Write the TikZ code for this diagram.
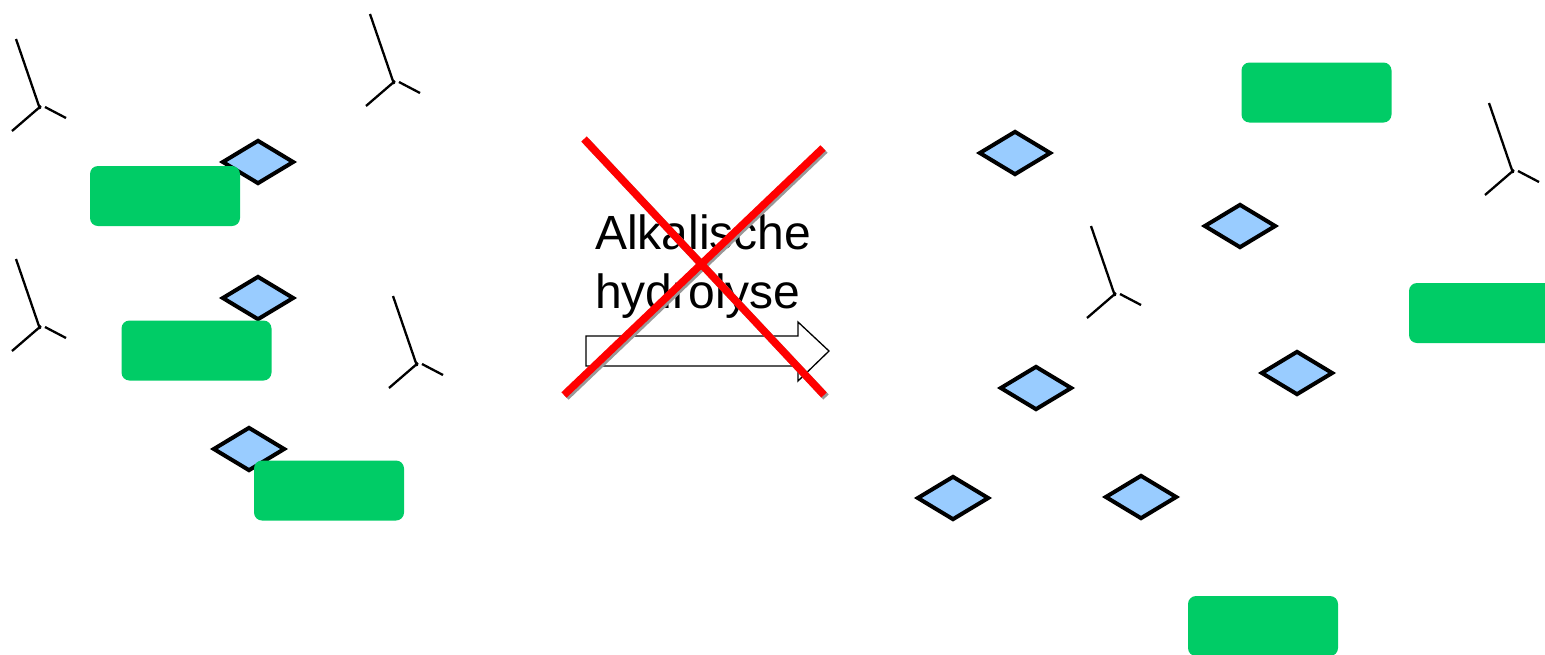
\documentclass[tikz,border=0pt]{standalone}
\usepackage{fontspec}
\setmainfont{Liberation Sans}
\usetikzlibrary{shapes.geometric}
\definecolor{gbox}{HTML}{00CC66}
\definecolor{dfill}{HTML}{99CCFF}
\tikzset{
  greenbox/.style={rectangle, rounded corners=8pt, fill=gbox, minimum width=150pt, minimum height=60pt, inner sep=0pt},
  bluediamond/.style={diamond, draw=black, line width=4pt, fill=dfill, minimum width=72pt, minimum height=44pt, inner sep=0pt},
  ysign/.pic={
    \draw[line width=2.3pt] (-24,-67) -- (0,3);
    \draw[line width=2.3pt] (1,0) -- (-28,25);
    \draw[line width=2.3pt] (5,1) -- (26,12);
  },
  crossline/.style={line width=7.5pt, draw=red},
  crossshadow/.style={line width=7.5pt, draw=gray!80},
  blockarrow/.style={draw=black, line width=1.3pt, fill=white}
}
\begin{document}
\begin{tikzpicture}[x=1pt,y=-1pt]
\useasboundingbox (0,0) rectangle (1545,654);
\clip (0,0) rectangle (1545,654);
% Y-shaped marks
\pic at (40,106) {ysign};
\pic at (394,81) {ysign};
\pic at (40,326) {ysign};
\pic at (417,363) {ysign};
\pic at (1115,293) {ysign};
\pic at (1513,170) {ysign};
% diamonds
\node[bluediamond] (d1) at (258,162) {};
\node[bluediamond] (d2) at (258,298) {};
\node[bluediamond] (d3) at (249,449) {};
\node[bluediamond] (d4) at (1015,153) {};
\node[bluediamond] (d5) at (1240,226) {};
\node[bluediamond] (d6) at (1036,388) {};
\node[bluediamond] (d7) at (1297,373) {};
\node[bluediamond] (d8) at (953,498) {};
\node[bluediamond] (d9) at (1141,497) {};
% green boxes
\node[greenbox] (g1) at (165,196) {};
\node[greenbox] (g2) at (196.5,350.5) {};
\node[greenbox] (g3) at (329,490.5) {};
\node[greenbox] (g4) at (1316.5,92.5) {};
\node[greenbox] (g5) at (1484,313) {};
\node[greenbox] (g6) at (1263,626) {};
% label
\node[align=left, anchor=north west, font=\fontsize{48pt}{59pt}\selectfont, inner sep=0pt] (lbl) at (595,215) {Alkalische\\hydrolyse};
% block arrow
\draw[blockarrow] (586,336) -- (798,336) -- (798,322) -- (829,351) -- (798,381) -- (798,366) -- (586,366) -- cycle;
% red cross with shadow
\coordinate (c1a) at (584,139);
\coordinate (c1b) at (824,395);
\coordinate (c2a) at (823,148);
\coordinate (c2b) at (564,395);
\draw[crossshadow] ([shift={(2,2)}]c1a) -- ([shift={(2,2)}]c1b);
\draw[crossshadow] ([shift={(2,2)}]c2a) -- ([shift={(2,2)}]c2b);
\draw[crossline] (c1a) -- (c1b);
\draw[crossline] (c2a) -- (c2b);
\end{tikzpicture}
\end{document}
